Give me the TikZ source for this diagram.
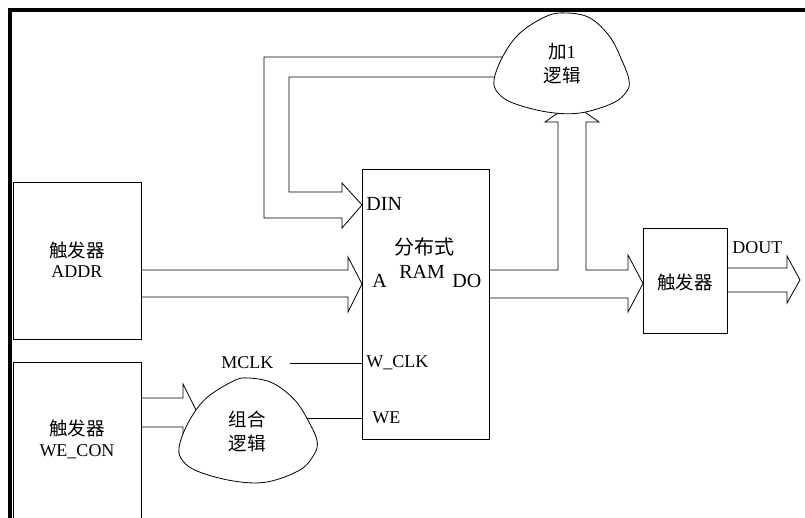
\documentclass[tikz,border=0pt]{standalone}
\usepackage{fontspec}
\setmainfont{Liberation Serif}
\newfontfamily\cjk{Noto Sans CJK SC}
\begin{document}
\begin{tikzpicture}[x=1pt,y=-1pt,line width=0.8pt,
  box/.style={draw,line width=0.8pt,rectangle,inner sep=0pt,anchor=north west},
  lbl/.style={font=\fontsize{18}{20}\selectfont,inner sep=0pt},
  biglbl/.style={font=\fontsize{20}{22}\selectfont,inner sep=0pt},
  zh/.style={font=\cjk\fontsize{18.5}{20}\selectfont,inner sep=0pt},
  frameline/.style={line width=3.2pt},
  bigarrow/.style={draw,line width=0.8pt,line join=miter},
  blobshape/.style={draw,fill=white,line width=0.8pt}]
\clip (0,0) rectangle (805,518);
\fill[white] (0,0) rectangle (805,518);
% frame
\draw[frameline] (10,10) -- (805,10);
\draw[frameline] (10,8.4) -- (10,518);
% boxes
\node[box,minimum width=128,minimum height=157] (addr) at (13,182) {};
\node[box,minimum width=128,minimum height=180] (wecon) at (13,362) {};
\node[box,minimum width=127,minimum height=270] (ram) at (362,169) {};
\node[box,minimum width=84,minimum height=105] (ff) at (643,228) {};
% feedback arrow into DIN
\draw[bigarrow] (520,57) -- (264,57) -- (264,218) -- (342,218) -- (342,228)
  -- (ram.west |- 0,205) -- (342,183) -- (342,192) -- (289,192) -- (289,77) -- (520,77);
% ADDR arrow
\draw[bigarrow] (addr.east |- 0,270) -- (348,270) -- (348,257) -- (ram.west |- 0,284)
  -- (348,312) -- (348,297) -- (addr.east |- 0,297);
% DO arrow (up to +1 logic and to flip-flop)
\draw[bigarrow] (ram.east |- 0,270) -- (558,270) -- (558,122) -- (545,122) -- (572,103)
  -- (599,122) -- (586,122) -- (586,270) -- (628,270) -- (628,255) -- (ff.west |- 0,283.5)
  -- (628,312) -- (628,298) -- (ram.east |- 0,298);
% DOUT arrow
\coordinate (douttip) at (800,280);
\draw[bigarrow] (ff.east |- 0,268) -- (787,268) -- (787,256) -- (douttip)
  -- (787,303) -- (787,292) -- (ff.east |- 0,292);
% WE_CON arrow
\draw[bigarrow] (wecon.east |- 0,398) -- (183,398) -- (183,384) -- (197,412)
  -- (183,441) -- (183,427) -- (wecon.east |- 0,427);
% WE line
\coordinate (weline) at (300,418);
\draw (weline) -- (ram.west |- weline);
% +1 logic blob
\begin{scope}[shift={(494,13)}]
\draw[blobshape] plot[smooth cycle,tension=0.6] coordinates
 {(0,67) (9,43) (26,20) (53,3) (73,0) (96,5) (116,24) (129,50) (135,67) (133,78)
  (119,90) (86,100) (53,99) (19,90) (4,80)};
\end{scope}
\node[zh] (inc) at (562,52) {加\rmfamily 1};
\node[zh] (inclogic) at (562,75) {逻辑};
% combinational blob
\begin{scope}[shift={(179,378)},xscale=1.022,yscale=1.04]
\draw[blobshape] plot[smooth cycle,tension=0.6] coordinates
 {(0,67) (9,43) (26,20) (53,3) (68,0) (92,5) (114,22) (128,44) (135,60) (133,72)
  (119,88) (86,100) (53,99) (19,90) (4,80)};
\end{scope}
\node[zh] (comb) at (247,419) {组合};
\node[zh] (comblogic) at (247,443) {逻辑};
% MCLK
\node[lbl,anchor=west] (mclk) at (221,363) {MCLK};
\coordinate (mclkstart) at (290,363);
\draw (mclkstart) -- (ram.west |- mclkstart);
% labels in boxes
\node[zh] (addrzh) at (77,250) {触发器};
\node[lbl] (addrtxt) at (77,272) {ADDR};
\node[zh] (weconzh) at (77,428) {触发器};
\node[lbl] (wecontxt) at (77,452) {WE\_CON};
\node[zh] (ffzh) at (685,282) {触发器};
\node[lbl,anchor=west] (dout) at (732,248) {DOUT};
% RAM labels
\node[biglbl,anchor=base west] (din) at (366,211) {DIN};
\node[zh,font=\cjk\fontsize{20}{22}\selectfont] (ramzh) at (424,247) {分布式};
\node[biglbl,anchor=base west] (ramtxt) at (399,279) {RAM};
\node[biglbl,anchor=base west] (aport) at (372,288) {A};
\node[biglbl,anchor=base west] (doport) at (452,288) {DO};
\node[lbl,anchor=west] (wclk) at (366,363) {W\_CLK};
\node[lbl,anchor=west] (weport) at (372,418) {WE};
\end{tikzpicture}
\end{document}
